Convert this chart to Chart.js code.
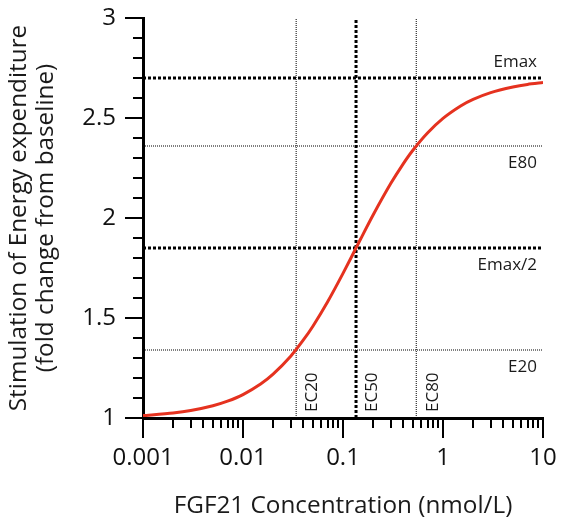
<!DOCTYPE html>
<html>
<head>
<meta charset="utf-8">
<script src="https://cdn.jsdelivr.net/npm/chart.js@4/dist/chart.umd.min.js"></script>
<style>
  html, body { margin: 0; padding: 0; background: #ffffff; }
  #wrap { width: 561px; height: 529px; }
</style>
</head>
<body>
<div id="wrap"><canvas id="c" width="561" height="529"></canvas></div>
<script>
// ---- data ----
const concentrations = [0.001, 0.002, 0.003, 0.005, 0.007, 0.01, 0.015, 0.02, 0.03, 0.04, 0.05, 0.07, 0.1, 0.15, 0.2, 0.3, 0.4, 0.5, 0.7, 1, 1.5, 2, 3, 5, 7, 10];
const stimulation   = [1.012, 1.025, 1.037, 1.061, 1.084, 1.117, 1.170, 1.219, 1.309, 1.389, 1.459, 1.580, 1.723, 1.895, 2.015, 2.172, 2.271, 2.339, 2.425, 2.498, 2.560, 2.593, 2.627, 2.655, 2.668, 2.677];

const levelNames  = ['Emax', 'E80', 'Emax/2', 'E20'];
const levelValues = [2.70, 2.36, 1.85, 1.34];

const ecNames  = ['EC20', 'EC50', 'EC80'];
const ecValues = [0.034, 0.135, 0.54];

const xTickValues = [0.001, 0.01, 0.1, 1, 10];
const xTickLabels = ['0.001', '0.01', '0.1', '1', '10'];
const yTickValues = [1, 1.5, 2, 2.5, 3];
const yTickLabels = ['1', '1.5', '2', '2.5', '3'];

const xMin = 0.001, xMax = 10, yMin = 1, yMax = 3;

// ---- styles ----
const FONT = "'Open Sans', 'Noto Sans', sans-serif";
const heavyLines = new Set(['Emax', 'Emax/2', 'EC50']);

const datasets = [];
datasets.push({
  label: 'curve',
  data: concentrations.map((x, i) => ({ x: x, y: stimulation[i] })),
  borderColor: '#e5321f',
  borderWidth: 3,
  pointRadius: 0,
  tension: 0.25,
  fill: false
});
levelNames.forEach((n, i) => {
  const heavy = heavyLines.has(n);
  datasets.push({
    label: n,
    data: [{ x: xMin, y: levelValues[i] }, { x: xMax, y: levelValues[i] }],
    borderColor: '#000',
    borderWidth: heavy ? 3 : 1,
    borderDash: heavy ? [3, 2] : [1, 1],
    pointRadius: 0, fill: false
  });
});
ecNames.forEach((n, i) => {
  const heavy = heavyLines.has(n);
  datasets.push({
    label: n,
    data: [{ x: ecValues[i], y: yMin }, { x: ecValues[i], y: yMax }],
    borderColor: '#000',
    borderWidth: heavy ? 3 : 1,
    borderDash: heavy ? [3, 2] : [1, 1],
    pointRadius: 0, fill: false
  });
});

// tick marks with different lengths for major / minor
const tickMarks = {
  id: 'tickMarks',
  afterDraw(chart) {
    const ctx = chart.ctx;
    const xs = chart.scales.x, ys = chart.scales.y;
    const area = chart.chartArea;
    ctx.save();
    ctx.strokeStyle = '#000';
    ctx.lineWidth = 2;
    ys.ticks.forEach(t => {
      const v = t.value;
      const major = Math.abs(v * 2 - Math.round(v * 2)) < 1e-6;
      const p = Math.round(ys.getPixelForValue(v));
      ctx.beginPath();
      ctx.moveTo(area.left - (major ? 18 : 10), p);
      ctx.lineTo(area.left, p);
      ctx.stroke();
    });
    xs.ticks.forEach(t => {
      const v = t.value;
      const lg = Math.log10(v);
      const major = Math.abs(lg - Math.round(lg)) < 1e-6;
      const p = Math.round(xs.getPixelForValue(v));
      ctx.beginPath();
      ctx.moveTo(p, area.bottom);
      ctx.lineTo(p, area.bottom + (major ? 20 : 10));
      ctx.stroke();
    });
    ctx.restore();
  }
};

// text labels for the reference lines
const refLabels = {
  id: 'refLabels',
  afterDatasetsDraw(chart) {
    const ctx = chart.ctx;
    const xs = chart.scales.x, ys = chart.scales.y;
    const area = chart.chartArea;
    ctx.save();
    ctx.fillStyle = '#1a1a1a';
    ctx.font = '17px ' + FONT;
    ctx.textAlign = 'right';
    ctx.textBaseline = 'middle';
    levelNames.forEach((n, i) => {
      const p = ys.getPixelForValue(levelValues[i]);
      const off = (i === 0) ? -16 : 17;
      ctx.fillText(n, area.right - 6, p + off);
    });
    ctx.textAlign = 'left';
    ecNames.forEach((n, i) => {
      const p = xs.getPixelForValue(ecValues[i]);
      ctx.save();
      ctx.translate(p + 16.5, area.bottom - 6);
      ctx.rotate(-Math.PI / 2);
      ctx.fillText(n, 0, 0);
      ctx.restore();
    });
    ctx.restore();
  }
};

new Chart(document.getElementById('c'), {
  type: 'line',
  data: { datasets },
  options: {
    responsive: false,
    devicePixelRatio: 1,
    animation: false,
    layout: { padding: { top: 18, right: 18, left: 0, bottom: 0 } },
    plugins: { legend: { display: false }, tooltip: { enabled: false } },
    scales: {
      x: {
        type: 'logarithmic',
        min: xMin, max: xMax,
        afterFit(s) { s.height = 111; s.paddingLeft = 0; s.paddingRight = 0; },
        afterBuildTicks(s) {
          const t = [];
          for (let d = 0; d < xTickValues.length - 1; d++) {
            for (let m = 1; m <= 9; m++) t.push({ value: xTickValues[d] * m });
          }
          t.push({ value: xTickValues[xTickValues.length - 1] });
          s.ticks = t;
        },
        grid: { display: true, drawOnChartArea: false, drawTicks: false, color: 'rgba(0,0,0,0)' },
        border: { display: true, color: '#000', width: 3 },
        ticks: {
          autoSkip: false, maxRotation: 0, padding: 26,
          color: '#111',
          font: { family: FONT, size: 24 },
          callback(v) {
            const i = xTickValues.findIndex(q => Math.abs(q - v) / q < 1e-6);
            return i >= 0 ? xTickLabels[i] : '';
          }
        },
        title: {
          display: true,
          text: 'FGF21 Concentration (nmol/L)',
          color: '#1a1a1a',
          font: { family: FONT, size: 24.3, lineHeight: 1.2 },
          padding: { top: 0, bottom: 8.5 }
        }
      },
      y: {
        type: 'linear',
        min: yMin, max: yMax,
        afterFit(s) { s.width = 143; s.paddingTop = 0; s.paddingBottom = 0; },
        afterBuildTicks(s) {
          const t = [];
          for (let k = 0; k <= 20; k++) t.push({ value: Math.round((yMin + k * 0.1) * 10) / 10 });
          s.ticks = t;
        },
        grid: { display: true, drawOnChartArea: false, drawTicks: false, color: 'rgba(0,0,0,0)' },
        border: { display: true, color: '#000', width: 3 },
        ticks: {
          autoSkip: false, padding: 27,
          color: '#111',
          font: { family: FONT, size: 24 },
          callback(v) {
            const i = yTickValues.findIndex(q => Math.abs(q - v) < 1e-6);
            return i >= 0 ? yTickLabels[i] : '';
          }
        },
        title: {
          display: true,
          text: ['Stimulation of Energy expenditure', '(fold change from baseline)'],
          color: '#1a1a1a',
          font: { family: FONT, size: 24.3, lineHeight: 1.1 },
          padding: { top: 5.5, bottom: 0 }
        }
      }
    }
  },
  plugins: [tickMarks, refLabels]
});
</script>
</body>
</html>
